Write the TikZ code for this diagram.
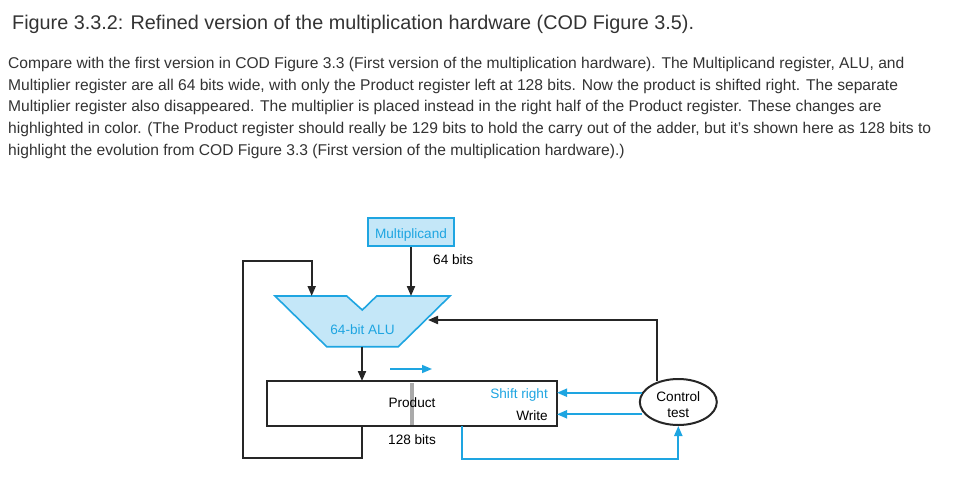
\documentclass[tikz,border=0pt]{standalone}
\usepackage{fontspec}
\setmainfont{Liberation Sans}
\usetikzlibrary{arrows.meta,shapes.geometric}
\definecolor{cblue}{RGB}{30,165,225}
\definecolor{cfill}{RGB}{196,231,248}
\definecolor{ctext}{RGB}{51,51,51}
\definecolor{cgray}{RGB}{170,170,170}
\begin{document}
\begin{tikzpicture}[x=1pt,y=-1pt,
  line/.style={line width=2pt,draw=black!85},
  bline/.style={line width=2pt,draw=cblue},
  tip/.style={-{Triangle[length=10pt,width=8pt]}},
  dtext/.style={font=\fontsize{13.6}{15}\selectfont,inner sep=0pt},
  para/.style={anchor=base west,inner sep=0pt,text=ctext,font=\fontsize{15.6}{18}\selectfont}]
\useasboundingbox[fill=white] (0,0) rectangle (963,488);
% text
\node[anchor=base west,inner sep=0pt,text=ctext,font=\fontsize{19.8}{22}\selectfont] (title) at (12,29) {Figure 3.3.2: Refined version of the multiplication hardware (COD Figure 3.5).};
\node[para] (p1) at (8,68) {Compare with the first version in COD Figure 3.3 (First version of the multiplication hardware). The Multiplicand register, ALU, and};
\node[para] (p2) at (8,90) {Multiplier register are all 64 bits wide, with only the Product register left at 128 bits. Now the product is shifted right. The separate};
\node[para] (p3) at (8,111.5) {Multiplier register also disappeared. The multiplier is placed instead in the right half of the Product register. These changes are};
\node[para] (p4) at (8,133) {highlighted in color. (The Product register should really be 129 bits to hold the carry out of the adder, but it's shown here as 128 bits to};
\node[para] (p5) at (8,155) {highlight the evolution from COD Figure 3.3 (First version of the multiplication hardware).)};
% Multiplicand
\node[draw=cblue,fill=cfill,line width=1.6pt,minimum width=86pt,minimum height=28pt,inner sep=0pt] (mcand) at (411,232) {};
\node[dtext,text=cblue] (mtext) at (411,234.5) {Multiplicand};
% ALU
\draw[line width=1.6pt,draw=cblue,fill=cfill,line join=miter] (275,296) -- (346.7,296) -- (362.3,310) -- (376.7,296) -- (450,296) -- (398.3,346.7) -- (326.7,346.7) -- cycle;
\node[dtext,text=cblue] (alu) at (362.5,329.5) {64-bit ALU};
\coordinate (aluL) at (311.7,296);
\coordinate (aluR) at (411,296);
\coordinate (aluB) at (362,346.7);
\coordinate (aluS) at (428,320);
% Product
\node[draw=black!85,line width=2pt,minimum width=290pt,minimum height=45pt,inner sep=0pt] (prod) at (412,403.5) {};
\fill[cgray] (409.7,382.5) rectangle (414,424.5);
\node[dtext] (ptext) at (412,403) {Product};
\node[dtext,anchor=west] (b64) at (433,259.5) {64 bits};
\node[dtext] (b128) at (412,439.5) {128 bits};
\node[dtext,anchor=east,text=cblue] (sr) at (548,395) {Shift right};
\node[dtext,anchor=east] (wr) at (548,415.5) {Write};
% Control
\node[draw=black!85,line width=2pt,ellipse,minimum width=77pt,minimum height=46pt,inner sep=0pt] (ctrl) at (678.3,402) {};
\node[align=center,inner sep=0pt,font=\fontsize{13.6}{16}\selectfont] (ctext) at (678.3,405) {Control\\[0pt]test};
% connectors
\draw[line,tip] (mcand.south) -- (aluR);
\draw[line,tip] (362,426) -- (362,458) -- (243.3,458) -- (243.3,260.7) -- (311.7,260.7) -- (aluL);
\draw[line,tip] (aluB) -- (362,381);
\draw[line,tip] (656.7,381) -- (656.7,320) -- (aluS);
\draw[bline,tip] (641.7,392.7) -- (557,392.7);
\draw[bline,tip] (641.7,414.3) -- (557,414.3);
\draw[bline,tip] (461.7,426) -- (461.7,459.3) -- (678.3,459.3) -- (ctrl.south);
\coordinate (sa) at (390,369);
\coordinate (sb) at (432,369);
\draw[bline,line width=1.6pt,tip] (sa) -- (sb);
\end{tikzpicture}
\end{document}
